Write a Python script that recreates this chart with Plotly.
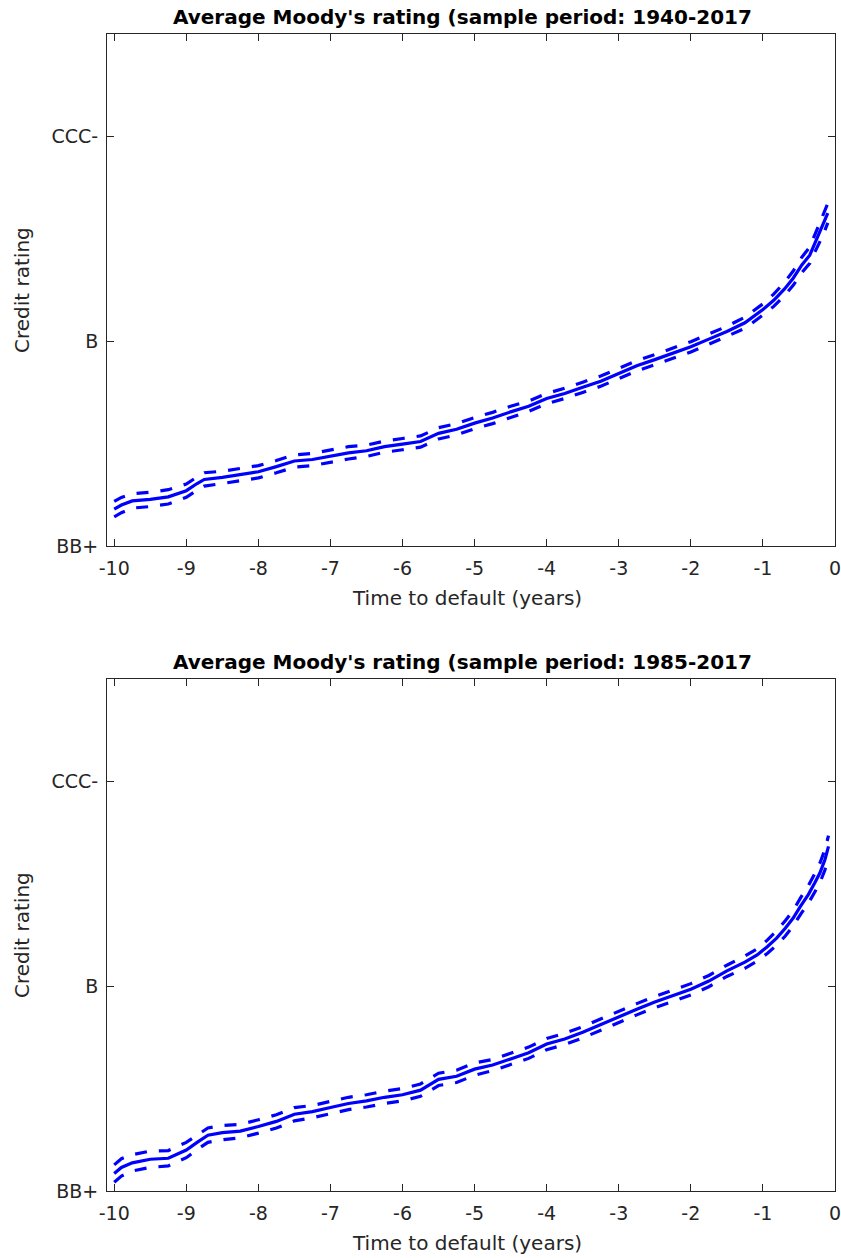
import plotly.graph_objects as go

# ---------------- data ----------------
rating_ticks = [11, 15, 19]
rating_labels = ["BB+", "B", "CCC-"]
x_ticks = [-10, -9, -8, -7, -6, -5, -4, -3, -2, -1, 0]
x_tick_labels = ["-10", "-9", "-8", "-7", "-6", "-5", "-4", "-3", "-2", "-1", "0"]

titles = ["Average Moody's rating (sample period: 1940-2017",
          "Average Moody's rating (sample period: 1985-2017"]

# panel 1 (1940-2017)
t1 = [-10.0, -9.9, -9.75, -9.5, -9.25, -9.0, -8.85, -8.75, -8.5, -8.25, -8.0,
      -7.75, -7.5, -7.25, -7.0, -6.75, -6.5, -6.25, -6.0, -5.75, -5.5, -5.25,
      -5.0, -4.75, -4.5, -4.25, -4.0, -3.75, -3.5, -3.25, -3.0, -2.75, -2.5,
      -2.25, -2.0, -1.75, -1.5, -1.25, -1.0, -0.85, -0.7, -0.58, -0.46, -0.35,
      -0.28, -0.17, -0.10]
mean1 = [11.72, 11.80, 11.88, 11.91, 11.96, 12.08, 12.22, 12.30, 12.34, 12.40, 12.45,
         12.55, 12.66, 12.69, 12.76, 12.82, 12.86, 12.94, 12.99, 13.04, 13.20, 13.28,
         13.40, 13.50, 13.62, 13.73, 13.88, 13.98, 14.10, 14.22, 14.37, 14.52, 14.64,
         14.76, 14.89, 15.04, 15.19, 15.36, 15.62, 15.80, 16.02, 16.23, 16.49, 16.68,
         16.91, 17.24, 17.50]
band1 = [0.15, 0.15, 0.14, 0.14, 0.14, 0.13, 0.13, 0.13, 0.12, 0.12, 0.12,
         0.12, 0.12, 0.12, 0.12, 0.12, 0.11, 0.11, 0.11, 0.11, 0.11, 0.11,
         0.11, 0.11, 0.11, 0.10, 0.10, 0.10, 0.10, 0.10, 0.10, 0.10, 0.10,
         0.10, 0.10, 0.10, 0.10, 0.11, 0.11, 0.12, 0.13, 0.14, 0.15, 0.16,
         0.17, 0.18, 0.19]

# panel 2 (1985-2017)
t2 = [-10.0, -9.9, -9.75, -9.5, -9.25, -9.0, -8.85, -8.7, -8.5, -8.25, -8.0,
      -7.75, -7.5, -7.25, -7.0, -6.75, -6.5, -6.25, -6.0, -5.75, -5.5, -5.25,
      -5.0, -4.75, -4.5, -4.25, -4.0, -3.75, -3.5, -3.25, -3.0, -2.75, -2.5,
      -2.25, -2.0, -1.75, -1.5, -1.25, -1.08, -0.94, -0.81, -0.69, -0.58, -0.48,
      -0.37, -0.28, -0.21, -0.14, -0.09]
mean2 = [11.34, 11.46, 11.55, 11.62, 11.64, 11.80, 11.95, 12.09, 12.14, 12.17, 12.26,
         12.36, 12.50, 12.55, 12.63, 12.71, 12.76, 12.83, 12.88, 12.97, 13.18, 13.24,
         13.38, 13.46, 13.58, 13.70, 13.87, 13.97, 14.10, 14.25, 14.41, 14.55, 14.69,
         14.82, 14.94, 15.10, 15.30, 15.47, 15.61, 15.77, 15.94, 16.13, 16.33, 16.56,
         16.79, 17.02, 17.21, 17.47, 17.73]
band2 = [0.17, 0.17, 0.16, 0.16, 0.15, 0.15, 0.14, 0.14, 0.14, 0.13, 0.13,
         0.13, 0.13, 0.12, 0.12, 0.12, 0.12, 0.12, 0.12, 0.12, 0.12, 0.12,
         0.12, 0.11, 0.11, 0.11, 0.11, 0.11, 0.11, 0.11, 0.11, 0.11, 0.11,
         0.11, 0.11, 0.11, 0.11, 0.12, 0.12, 0.13, 0.14, 0.15, 0.15, 0.16,
         0.17, 0.18, 0.19, 0.20, 0.21]

# ---------------- figure ----------------
BLUE = "#0000FF"
AX = "#262626"
FONT = "DejaVu Sans"
LW = 3.2
DASH = "12px,12px"

fig = go.Figure()

panels = [(t1, mean1, band1, "x", "y"), (t2, mean2, band2, "x2", "y2")]
for t, m, b, xa, ya in panels:
    upper = [mi + bi for mi, bi in zip(m, b)]
    lower = [mi - bi for mi, bi in zip(m, b)]
    fig.add_trace(go.Scatter(x=t, y=upper, mode="lines", xaxis=xa, yaxis=ya,
                             line=dict(color=BLUE, width=LW, dash=DASH), showlegend=False))
    fig.add_trace(go.Scatter(x=t, y=lower, mode="lines", xaxis=xa, yaxis=ya,
                             line=dict(color=BLUE, width=LW, dash=DASH), showlegend=False))
    fig.add_trace(go.Scatter(x=t, y=m, mode="lines", xaxis=xa, yaxis=ya,
                             line=dict(color=BLUE, width=LW), showlegend=False))

W, H = 841, 1258
ML, MR, MT, MB = 107, 6, 34, 67
ph = H - MT - MB
top_dom = [(1191 - 546) / ph, 1.0]
bot_dom = [0.0, (1191 - 679) / ph]

xcommon = dict(range=[-10.1, 0], tickvals=x_ticks, ticktext=x_tick_labels,
               ticks="inside", ticklen=7,
               tickcolor=AX, showline=True, linecolor=AX, linewidth=1, mirror="ticks",
               showgrid=False, zeroline=False, automargin=False,
               ticklabeloverflow="allow", ticklabelstandoff=5,
               tickfont=dict(family=FONT, size=19, color=AX))
ycommon = dict(range=[11, 21], tickvals=rating_ticks, ticktext=rating_labels,
               ticks="inside", ticklen=7, tickcolor=AX, showline=True, linecolor=AX,
               linewidth=1, mirror="ticks", showgrid=False, zeroline=False,
               automargin=False, ticklabeloverflow="allow",
               tickfont=dict(family=FONT, size=19, color=AX), ticklabelstandoff=4)

fig.update_layout(
    width=W, height=H,
    margin=dict(l=ML, r=MR, t=MT, b=MB, autoexpand=False),
    paper_bgcolor="white", plot_bgcolor="white",
    xaxis=dict(domain=[0, 1], anchor="y", **xcommon),
    yaxis=dict(domain=top_dom, anchor="x", **ycommon),
    xaxis2=dict(domain=[0, 1], anchor="y2", **xcommon),
    yaxis2=dict(domain=bot_dom, anchor="x2", **ycommon),
)

annots = []
for dom, title in [(top_dom, titles[0]), (bot_dom, titles[1])]:
    annots.append(dict(text="<b>" + title + "</b>", xref="paper", yref="paper",
                       x=0.489, y=dom[1], xanchor="center", yanchor="bottom", yshift=3,
                       showarrow=False, font=dict(family=FONT, size=20, color="black")))
    annots.append(dict(text="Time to default (years)", xref="paper", yref="paper",
                       x=0.495, y=dom[0], xanchor="center", yanchor="top", yshift=-38,
                       showarrow=False, font=dict(family=FONT, size=20, color=AX)))
    annots.append(dict(text="Credit rating", xref="paper", yref="paper",
                       x=0, y=(dom[0] + dom[1]) / 2, xanchor="center", yanchor="middle",
                       xshift=-85, textangle=-90,
                       showarrow=False, font=dict(family=FONT, size=20, color=AX)))
fig.update_layout(annotations=annots)

fig.write_html(
    "out.html",
    config={"displayModeBar": False},
    post_script="document.body.style.margin='0';document.body.style.padding='0';"
                "document.body.style.overflow='hidden';",
)
